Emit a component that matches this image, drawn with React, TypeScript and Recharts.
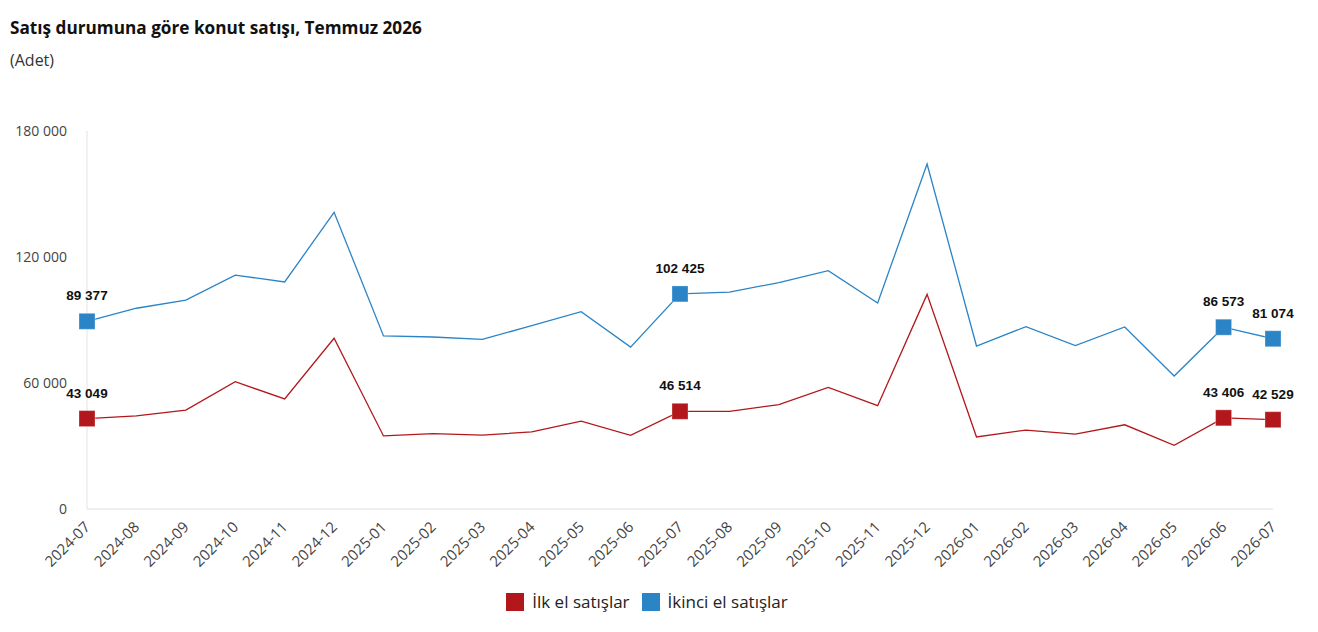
import { LineChart, Line, XAxis, YAxis, LabelList } from 'recharts'

const months = [
  '2024-07', '2024-08', '2024-09', '2024-10', '2024-11', '2024-12',
  '2025-01', '2025-02', '2025-03', '2025-04', '2025-05', '2025-06',
  '2025-07', '2025-08', '2025-09', '2025-10', '2025-11', '2025-12',
  '2026-01', '2026-02', '2026-03', '2026-04', '2026-05', '2026-06', '2026-07',
]

const firstHand = [
  43049, 44300, 47100, 60600, 52400, 81300,
  34800, 35900, 35200, 36700, 41800, 35100,
  46514, 46500, 49700, 57900, 49200, 102200,
  34300, 37600, 35700, 40100, 30300, 43406, 42529,
]

const secondHand = [
  89377, 95600, 99500, 111400, 108100, 141300,
  82400, 81900, 80800, 87300, 94000, 77100,
  102425, 103300, 107800, 113500, 98100, 164300,
  77600, 86800, 77800, 86700, 63300, 86573, 81074,
]

const yTicks = [0, 60000, 120000, 180000]

// points that get a square marker and a value label
const highlighted = [0, 12, 23, 24]

const RED = '#b2181b'
const BLUE = '#2a84c6'

const data = months.map((month, i) => ({
  month,
  first: firstHand[i],
  second: secondHand[i],
}))

const fmt = (v: number) => String(Math.round(v)).replace(/\B(?=(\d{3})+(?!\d))/g, ' ')

function squareDot(color: string) {
  return (props: any) => {
    const { cx, cy, index } = props
    if (!highlighted.includes(index) || cx == null) return <g key={`d-${index}`} />
    return <rect key={`d-${index}`} x={cx - 8} y={cy - 8} width={16} height={16} fill={color} stroke="#ffffff" strokeOpacity={0.3} />
  }
}

function valueLabel(props: any) {
  const { x, y, value, index } = props
  if (!highlighted.includes(index)) return null
  return (
    <text
      x={x}
      y={y - 21}
      textAnchor="middle"
      fontFamily="'Liberation Sans', Arial, sans-serif"
      fontWeight={700}
      fontSize={13.5}
      fill="#111"
    >
      {fmt(value)}
    </text>
  )
}

function XTick(props: any) {
  const { x, y, payload } = props
  return (
    <text
      x={x + 4}
      y={y + 11}
      transform={`rotate(-45 ${x + 4} ${y + 11})`}
      textAnchor="end"
      fontFamily="'Open Sans', sans-serif"
      fontSize={15}
      fill="#444"
    >
      {payload.value}
    </text>
  )
}

function YTick(props: any) {
  const { x, y, payload } = props
  return (
    <text x={x - 12} y={y + 5} textAnchor="end" fontFamily="'Open Sans', sans-serif" fontSize={14} fill="#444">
      {fmt(payload.value)}
    </text>
  )
}

export default function App() {
  return (
    <div style={{ position: 'relative', width: 1302, height: 616, fontFamily: "'Open Sans', sans-serif", color: '#111' }}>
      <div style={{ position: 'absolute', left: 2, top: 8, fontSize: 17.2, fontWeight: 700 }}>
        Satış durumuna göre konut satışı, Temmuz 2026
      </div>
      <div style={{ position: 'absolute', left: 2, top: 41, fontSize: 16, color: '#333' }}>(Adet)</div>

      <div style={{ position: 'absolute', left: 0, top: 0 }}>
        <LineChart width={1302} height={616} data={data} margin={{ top: 123, right: 37, left: 0, bottom: 0 }}>
          <XAxis
            dataKey="month"
            interval={0}
            tickLine={false}
            axisLine={{ stroke: '#dddddd' }}
            height={115}
            tick={<XTick />}
          />
          <YAxis
            width={79}
            domain={[0, 180000]}
            ticks={yTicks}
            tickLine={false}
            axisLine={{ stroke: '#e3e3e3' }}
            tick={<YTick />}
          />
          <Line
            dataKey="second"
            stroke={BLUE}
            strokeWidth={1.3}
            dot={squareDot(BLUE)}
            activeDot={false}
            isAnimationActive={false}
          >
            <LabelList dataKey="second" content={valueLabel} />
          </Line>
          <Line
            dataKey="first"
            stroke={RED}
            strokeWidth={1.3}
            dot={squareDot(RED)}
            activeDot={false}
            isAnimationActive={false}
          >
            <LabelList dataKey="first" content={valueLabel} />
          </Line>
        </LineChart>
      </div>

      <div
        style={{
          position: 'absolute',
          left: -12,
          width: 1302,
          top: 582,
          display: 'flex',
          justifyContent: 'center',
          alignItems: 'center',
          fontSize: 17,
          color: '#222',
        }}
      >
        <span style={{ display: 'inline-block', width: 18, height: 18, background: RED, marginRight: 8 }} />
        <span style={{ marginRight: 12 }}>İlk el satışlar</span>
        <span style={{ display: 'inline-block', width: 18, height: 18, background: BLUE, marginRight: 8 }} />
        <span>İkinci el satışlar</span>
      </div>
    </div>
  )
}
